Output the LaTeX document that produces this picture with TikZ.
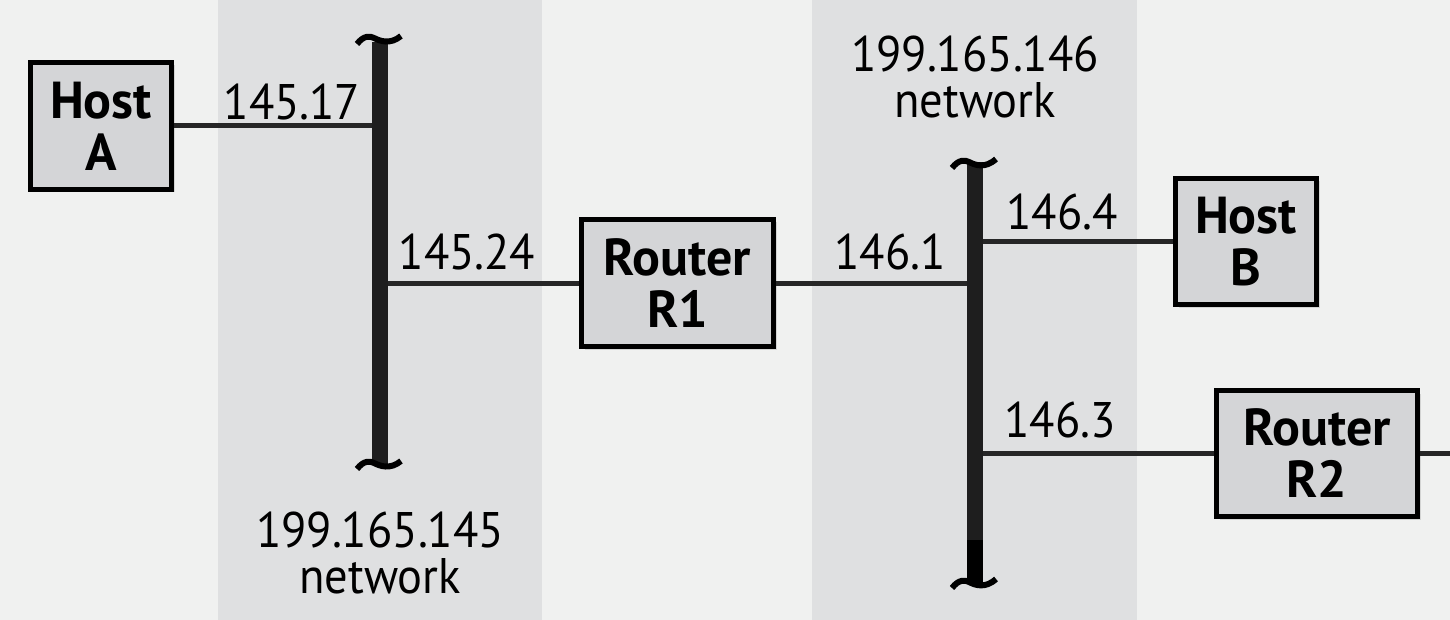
\documentclass[tikz,border=0pt]{standalone}
\usepackage{fontspec}
\setmainfont{PT Sans}
\newfontfamily\lblfont[FakeStretch=0.93]{PT Sans}
\usetikzlibrary{shadows}
\definecolor{bg}{HTML}{F0F1F0}
\definecolor{band}{HTML}{DFE0E1}
\definecolor{boxfill}{HTML}{D4D5D7}
\definecolor{busgrey}{HTML}{1E1E1E}
\begin{document}
\begin{tikzpicture}[x=0.5pt,y=-0.5pt,
  devbox/.style={draw=black,line width=2.5pt,fill=boxfill,align=center,
    font=\fontsize{26}{26}\selectfont\bfseries,inner sep=0pt,
    drop shadow={shadow xshift=1.5pt,shadow yshift=-1.5pt,opacity=0.25}},
  lbl/.style={font=\lblfont\fontsize{25}{23}\selectfont,inner sep=0pt,align=center},
  wire/.style={line width=2.5pt,black!85},
  bus/.style={fill=busgrey,draw=none,minimum width=8pt,inner sep=0pt},
  squig/.style={line width=3pt,black}]
\useasboundingbox (0,0) rectangle (1450,620);
\fill[bg] (0,0) rectangle (1450,620);
\fill[band] (218,0) rectangle (542,620);
\fill[band] (812,0) rectangle (1137,620);
% buses
\node[bus,minimum height=211pt,anchor=north] (bus1) at (380,42) {};
\node[bus,minimum height=211pt,anchor=north] (bus2) at (975,162) {};
\fill[black] (967,540) rectangle (983,584);
\draw[squig] (357,44) .. controls (364,35) and (370,36) .. (374,38) .. controls (380,41) and (390,45) .. (401,36);
\draw[squig] (357,469) .. controls (364,460) and (370,461) .. (374,463) .. controls (380,466) and (390,470) .. (401,461);
\draw[squig] (952,168) .. controls (959,159) and (965,160) .. (969,162) .. controls (975,165) and (985,169) .. (996,159);
\draw[squig] (952,588) .. controls (959,579) and (965,580) .. (969,582) .. controls (975,585) and (985,589) .. (996,579);
% devices
\node[devbox,minimum width=70.5pt,minimum height=63.5pt] (hostA) at (101,126) {Host\\A};
\node[devbox,minimum width=96pt,minimum height=63.5pt] (r1) at (677.5,283) {Router\\R1};
\node[devbox,minimum width=70.5pt,minimum height=63pt] (hostB) at (1246,241.5) {Host\\B};
\node[devbox,minimum width=100.5pt,minimum height=63pt] (r2) at (1317,453.5) {Router\\R2};
\coordinate (r2out) at (1450,453.5);
% wires
\draw[wire] (hostA.east) -- (hostA.east -| bus1.west);
\draw[wire] (r1.west -| bus1.east) -- (r1.west);
\draw[wire] (r1.east) -- (r1.east -| bus2.west);
\draw[wire] (hostB.west -| bus2.east) -- (hostB.west);
\draw[wire] (r2.west -| bus2.east) -- (r2.west);
\draw[wire] (r2.east) -- (r2out);
% labels
\node[lbl] (l1) at (292,102) {145.17};
\node[lbl] (l2) at (467,252) {145.24};
\node[lbl] (l3) at (890,252) {146.1};
\node[lbl] (l4) at (1062,212) {146.4};
\node[lbl] (l5) at (1060,420) {146.3};
\node[lbl] (n1) at (380,553) {199.165.145\\network};
\node[lbl] (n2) at (975,77) {199.165.146\\network};
\end{tikzpicture}
\end{document}
